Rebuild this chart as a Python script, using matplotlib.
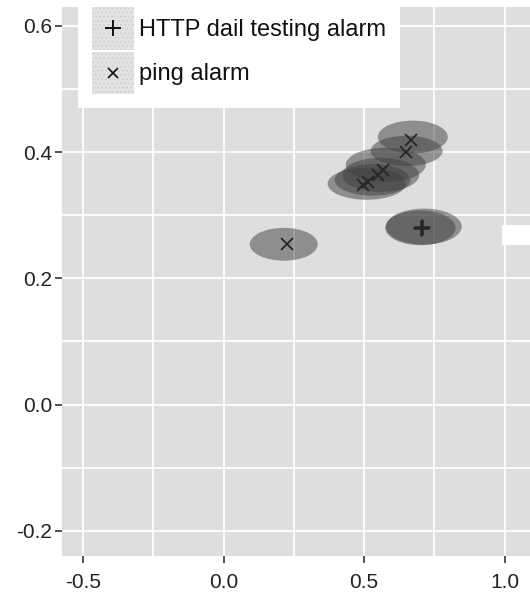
import numpy as np
import matplotlib
matplotlib.use('Agg')
import matplotlib.pyplot as plt
from matplotlib.patches import Ellipse, Rectangle
from matplotlib.lines import Line2D
from matplotlib.legend_handler import HandlerTuple, HandlerLine2D

plt.rcParams['font.family'] = ['Liberation Sans', 'DejaVu Sans']

# marker positions
http_x = [0.702, 0.705]
http_y = [0.280, 0.281]
ping_x = [0.224, 0.495, 0.512, 0.548, 0.566, 0.648, 0.665]
ping_y = [0.255, 0.348, 0.353, 0.364, 0.372, 0.400, 0.420]

# ellipses (center, width, height) in data units
ell_x = [0.712, 0.700, 0.214, 0.509, 0.530, 0.559, 0.577, 0.651, 0.673]
ell_y = [0.282, 0.280, 0.254, 0.350, 0.356, 0.364, 0.380, 0.402, 0.424]
ell_w = [0.270, 0.250, 0.242, 0.278, 0.270, 0.274, 0.285, 0.256, 0.249]
ell_h = [0.057, 0.055, 0.052, 0.051, 0.050, 0.054, 0.054, 0.048, 0.052]

labels = ['HTTP dail testing alarm', 'ping alarm']


class CenteredMarker(HandlerLine2D):
    # put the key marker in the middle of the key square
    def create_artists(self, legend, orig_handle, xdescent, ydescent,
                       width, height, fontsize, trans):
        return super().create_artists(legend, orig_handle, xdescent,
                                      2 * ydescent, width, height,
                                      fontsize, trans)


fig = plt.figure(figsize=(5.3, 5.95), dpi=100)
ax = fig.add_axes([62 / 530, 39 / 595, 468 / 530, 549 / 595])
ax.set_facecolor('#dedede')
ax.set_xlim(-0.575, 1.09)
ax.set_ylim(-0.24, 0.63)

ax.set_xticks([-0.5, 0.0, 0.5, 1.0])
ax.set_xticks([-0.25, 0.25, 0.75], minor=True)
ax.set_yticks([-0.2, 0.0, 0.2, 0.4, 0.6])
ax.set_yticks([-0.1, 0.1, 0.3, 0.5], minor=True)
ax.set_xticklabels(['-0.5', '0.0', '0.5', '1.0'])
ax.set_yticklabels(['-0.2', '0.0', '0.2', '0.4', '0.6'])
ax.grid(True, which='both', color='white', lw=1.3)
ax.set_axisbelow(True)
ax.tick_params(which='major', length=5, width=1.2, color='#333333',
               labelsize=15, labelcolor='#222222')
ax.tick_params(axis='x', which='major', pad=7)
ax.tick_params(axis='y', which='major', pad=2)
ax.tick_params(which='minor', length=0)
for s in ax.spines.values():
    s.set_visible(False)

for cx, cy, w, h in zip(ell_x, ell_y, ell_w, ell_h):
    ax.add_patch(Ellipse((cx, cy), w, h, facecolor='#404040', alpha=0.5,
                         edgecolor='none', zorder=2))

ax.plot(http_x, http_y, linestyle='none', marker='+', markersize=12,
        markeredgewidth=1.8, color='#262626', zorder=3)
ax.plot(ping_x, ping_y, linestyle='none', marker='x', markersize=8,
        markeredgewidth=1.3, color='#262626', zorder=3)

# legend keys
plt.rcParams['hatch.linewidth'] = 0.6
key_bg = [Rectangle((0, 0), 1, 1, facecolor='#e2e2e2', edgecolor='#cdcdcd',
                    hatch='....', lw=0) for _ in labels]
key_mk = [Line2D([], [], linestyle='none', marker='+', markersize=12,
                 markeredgewidth=1.4, color='#111111'),
          Line2D([], [], linestyle='none', marker='x', markersize=7,
                 markeredgewidth=1.2, color='#111111')]
leg = ax.legend([(key_bg[0], key_mk[0]), (key_bg[1], key_mk[1])], labels,
                handler_map={tuple: HandlerTuple(ndivide=1, pad=0),
                             Line2D: CenteredMarker()},
                loc='upper left', bbox_to_anchor=(78 / 530, 1 + 7 / 595),
                bbox_transform=fig.transFigure, fontsize=17,
                handlelength=1.78, handleheight=2.4, labelspacing=0.08,
                handletextpad=0.2, borderpad=0.6, borderaxespad=0,
                frameon=True, fancybox=False, framealpha=1)
leg.get_frame().set_edgecolor('none')
leg.get_frame().set_facecolor('white')
for t in leg.get_texts():
    t.set_color('#111111')

# clipped white box at right edge
fig.patches.append(Rectangle((502 / 530, (595 - 245) / 595), 28 / 530, 20 / 595,
                             transform=fig.transFigure, facecolor='white',
                             edgecolor='none', zorder=5))

fig.savefig('out.png', dpi=100)
